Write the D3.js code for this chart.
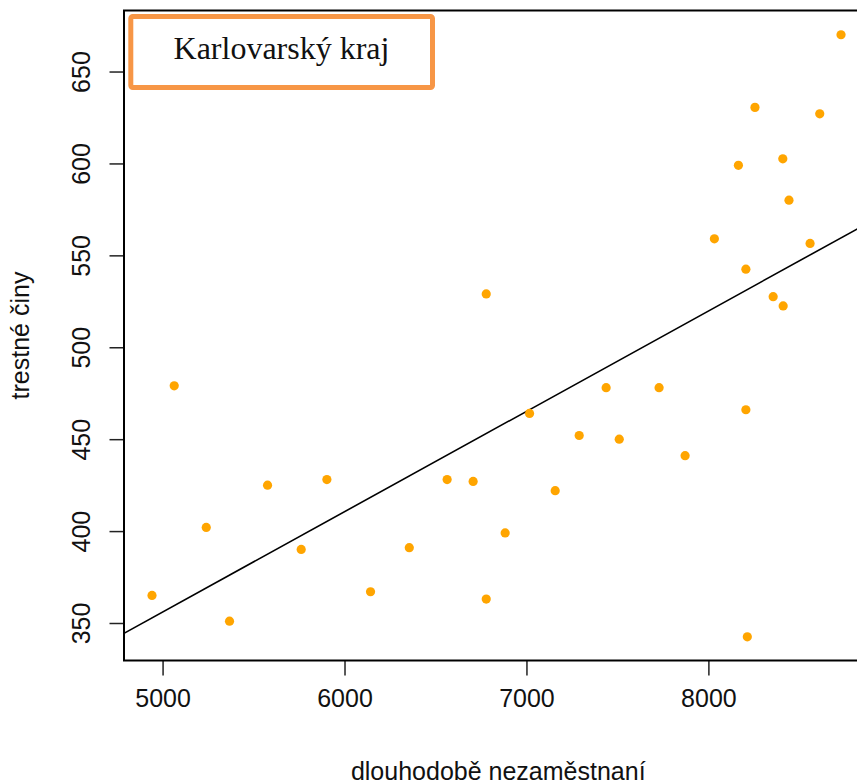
<!DOCTYPE html>
<html>
<head>
<meta charset="utf-8">
<script src="https://cdn.jsdelivr.net/npm/d3@7"></script>
<style>
  html, body { margin: 0; padding: 0; background: #fff; }
  svg { display: block; }
</style>
</head>
<body>
<div id="plot_container"></div>
<script>
// long-term unemployed vs. crimes, Karlovarský kraj
const unemployed = [4942, 5064, 5240, 5368, 5577, 5762, 5903, 6143, 6356, 6564, 6707, 6779, 6779, 6883,
  7017, 7158, 7290, 7438, 7510, 7729, 7872, 8033, 8165, 8206, 8206, 8214, 8256, 8356, 8409, 8411,
  8443, 8559, 8612, 8729];
const crimes = [365, 479, 402, 351, 425, 390, 428, 367, 391, 428, 427, 529, 363, 399,
  464, 422, 452, 478, 450, 478, 441, 559, 599, 542.5, 466, 342.5, 630.5, 527.5, 602.5, 522.5,
  580, 556.5, 627, 670];

const x_ticks = [5000, 6000, 7000, 8000];
const y_ticks = [350, 400, 450, 500, 550, 600, 650];
const x_lim = [4788, 8902];
const y_lim = [329.6, 683.2];

// abline(lm(crimes ~ unemployed))
const fit_intercept = 83.0;
const fit_slope = 0.05459;

const title_text = 'Karlovarský kraj';
const x_label = 'dlouhodobě nezaměstnaní';
const y_label = 'trestné činy';

const svg_width = 857;
const svg_height = 784;
const margin = {left: 124, right: -15.5, top: 10.5, bottom: 123.5};
const plot_width = svg_width - margin.left - margin.right;
const plot_height = svg_height - margin.top - margin.bottom;
const sans = '"Liberation Sans", Arial, sans-serif';

const svg = d3.select('#plot_container').append('svg')
  .attr('width', svg_width)
  .attr('height', svg_height);

const g = svg.append('g')
  .attr('transform', `translate(${margin.left},${margin.top})`);

const x_scale = d3.scaleLinear().domain(x_lim).range([0, plot_width]);
const y_scale = d3.scaleLinear().domain(y_lim).range([plot_height, 0]);

// axes, R style: ticks outside, labels below / rotated on the left
const x_axis = d3.axisBottom(x_scale)
  .tickValues(x_ticks)
  .tickSize(15)
  .tickSizeOuter(0)
  .tickPadding(14)
  .tickFormat(d3.format('d'));

const y_axis = d3.axisLeft(y_scale)
  .tickValues(y_ticks)
  .tickSize(14.5)
  .tickSizeOuter(0)
  .tickFormat(d3.format('d'));

const gx = g.append('g')
  .attr('transform', `translate(0,${plot_height})`)
  .call(x_axis);
gx.select('.domain').remove();
gx.selectAll('line').attr('stroke', '#222').attr('stroke-width', 1.5);
gx.selectAll('text')
  .attr('font-family', sans)
  .attr('font-size', 25)
  .attr('fill', '#111');

const gy = g.append('g').call(y_axis);
gy.select('.domain').remove();
gy.selectAll('line').attr('stroke', '#222').attr('stroke-width', 1.5);
gy.selectAll('text')
  .attr('font-family', sans)
  .attr('font-size', 25)
  .attr('fill', '#111')
  .attr('x', null)
  .attr('dy', null)
  .attr('text-anchor', 'middle')
  .attr('transform', `translate(${89.5 - margin.left},0) rotate(-90)`);

// regression line, clipped to plot box
svg.append('clipPath').attr('id', 'plot_clip')
  .append('rect')
  .attr('width', plot_width)
  .attr('height', plot_height);

g.append('line')
  .attr('clip-path', 'url(#plot_clip)')
  .attr('x1', x_scale(x_lim[0]))
  .attr('x2', x_scale(x_lim[1]))
  .attr('y1', y_scale(fit_intercept + fit_slope * x_lim[0]))
  .attr('y2', y_scale(fit_intercept + fit_slope * x_lim[1]))
  .attr('stroke', '#000')
  .attr('stroke-width', 1.6);

// points
g.append('g')
  .selectAll('circle')
  .data(unemployed.map((u, i) => ({x: u, y: crimes[i]})))
  .enter()
  .append('circle')
  .attr('cx', d => x_scale(d.x))
  .attr('cy', d => y_scale(d.y))
  .attr('r', 4.6)
  .attr('fill', '#ffa500');

// box()
g.append('rect')
  .attr('width', plot_width)
  .attr('height', plot_height)
  .attr('fill', 'none')
  .attr('stroke', '#000')
  .attr('stroke-width', 2);

// title label box
svg.append('rect')
  .attr('x', 130.8)
  .attr('y', 16.5)
  .attr('width', 301.7)
  .attr('height', 71)
  .attr('rx', 2)
  .attr('fill', '#fff')
  .attr('stroke', '#f79646')
  .attr('stroke-width', 5);

svg.append('text')
  .attr('x', 281.5)
  .attr('y', 58.5)
  .attr('text-anchor', 'middle')
  .attr('font-family', '"Liberation Serif", "Times New Roman", serif')
  .attr('font-size', 32)
  .attr('fill', '#111')
  .text(title_text);

// axis titles
svg.append('text')
  .attr('x', margin.left + plot_width / 2)
  .attr('y', 780)
  .attr('text-anchor', 'middle')
  .attr('font-family', sans)
  .attr('font-size', 25)
  .attr('fill', '#111')
  .text(x_label);

svg.append('text')
  .attr('transform', `translate(28.5,${margin.top + plot_height / 2}) rotate(-90)`)
  .attr('text-anchor', 'middle')
  .attr('font-family', sans)
  .attr('font-size', 25)
  .attr('fill', '#111')
  .text(y_label);
</script>
</body>
</html>
